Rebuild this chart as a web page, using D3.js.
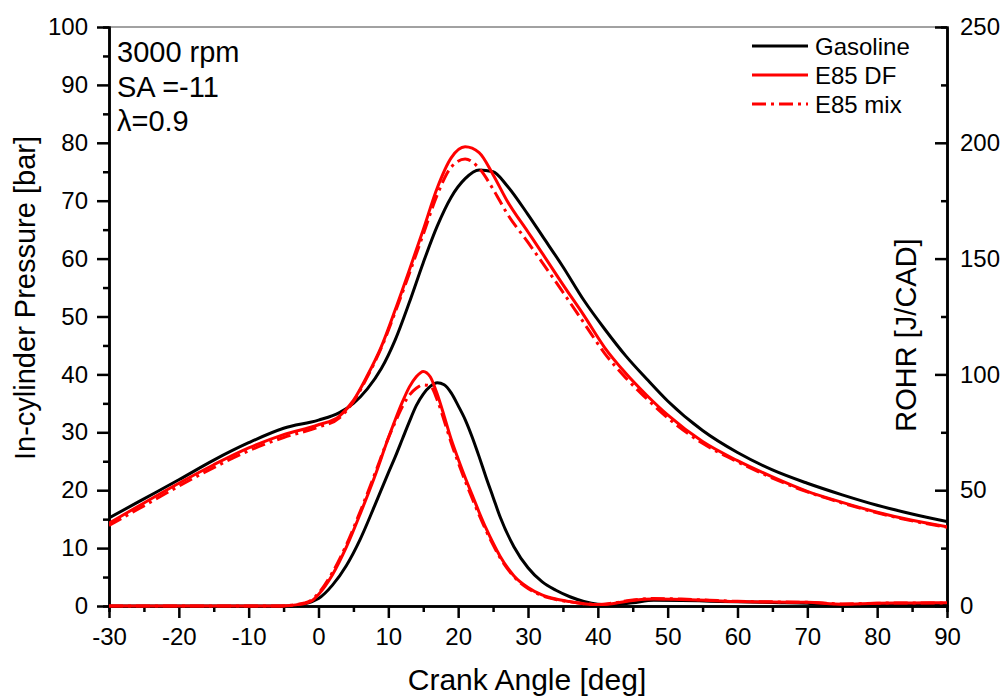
<!DOCTYPE html>
<html>
<head>
<meta charset="utf-8">
<script src="https://cdn.jsdelivr.net/npm/d3@7"></script>
<style>
  html, body { margin: 0; padding: 0; background: #fff; }
  svg { display: block; font-family: Arial, "Liberation Sans", sans-serif; }
</style>
</head>
<body>
<svg id="chart" width="1005" height="696"></svg>
<script>
// crank angle grid (deg) for the pressure traces
const pAngle = [-30,-25,-20,-15,-10,-5,0,3,5,7,9,11,13,15,17,19,21,23,25,27,30,32,35,38,41,44,47,50,55,60,65,70,75,80,85,90];
const pGasoline = [15.2,18.5,21.8,25.2,28.2,30.7,32.1,33.4,35.0,37.5,41.0,46.0,52.4,59.3,65.6,70.6,73.8,75.3,75.0,72.6,67.6,64.0,58.6,52.8,47.8,43.2,39.2,35.4,30.3,26.5,23.5,21.2,19.2,17.4,15.9,14.6];
const pE85DF    = [14.3,17.8,21.2,24.4,27.3,29.6,31.3,32.8,35.5,39.8,44.8,51.2,58.0,65.0,72.2,77.4,79.3,78.3,74.5,70.0,64.6,61.0,55.5,50.2,44.6,40.2,36.4,33.0,28.4,25.1,22.3,19.8,17.9,16.2,14.8,13.7];
const pE85mix   = [13.9,17.3,20.7,23.9,26.8,29.1,30.9,32.5,35.3,39.6,44.6,50.8,57.4,64.2,71.0,75.8,77.2,75.6,72.0,67.8,62.8,59.4,54.2,48.9,43.6,39.4,35.8,32.5,28.1,24.9,22.1,19.7,17.8,16.1,14.7,13.6];

// crank angle grid (deg) for the heat release traces
const rAngle = [-30,-20,-10,-6,-5,-4,-3,-2,-1,0,2,4,6,8,10,11,12,13,14,15,16,17,18,19,20,21,22,23,24,25,26,28,30,32,34,36,38,40,42,45,48,52,56,60,65,70,75,80,85,90];
const rGasoline = [0,0,0,0,0,0,0.3,0.9,1.8,3.2,9,17.5,29,43,57.5,64.5,72,79.5,86.5,91.5,94.8,96.4,95.5,92,86.5,80.5,73,64.5,55.5,47,38.5,25.5,16.5,10.5,6.8,4,2,0.8,0.5,1.4,2.5,2.4,2.1,1.8,1.5,1.2,0.2,0.3,0.5,0.6];
const rE85DF    = [0,0,0,0,0,0.2,0.6,1.1,2.2,5,13.5,25.5,40,55.5,72.5,80.5,88,94.5,99,101.3,99,91.5,82,72,63.5,55.5,48,40.5,33.5,27.2,21.5,13,8,4.8,3,1.9,1,0.6,1,2.4,3,2.8,2.4,1.9,1.7,1.6,0.8,1.2,1.3,1.4];
const rE85mix   = [0,0,0,0,0.1,0.3,0.7,1.3,2.6,5.5,14.5,26.5,41,56.5,72.5,79.5,86,91,94,95.5,95,89,80,70.5,62,54,46.5,39.3,32.5,26.4,20.8,12.6,7.6,4.5,2.8,1.8,1,0.7,1.2,2.6,3.2,3,2.5,2,1.8,1.6,0.9,1.2,1.3,1.3];

const seriesNames = ["Gasoline", "E85 DF", "E85 mix"];
const seriesColors = ["#000000", "#ff0000", "#ff0000"];
const seriesDash = [null, null, "14,5,3,5"];

const xTicks = [-30,-20,-10,0,10,20,30,40,50,60,70,80,90];
const xMinor = [-25,-15,-5,5,15,25,35,45,55,65,75,85];
const yTicks = [0,10,20,30,40,50,60,70,80,90,100];
const yMinor = [5,15,25,35,45,55,65,75,85,95];
const y2Ticks = [0,50,100,150,200,250];
const y2Minor = [25,75,125,175,225];

const L = 109, R = 947, T = 27, B = 606;
const svg = d3.select("#chart");

const x = d3.scaleLinear().domain([-30, 90]).range([L, R]);
const y = d3.scaleLinear().domain([0, 100]).range([B, T]);
const y2 = d3.scaleLinear().domain([0, 250]).range([B, T]);

// top frame line
svg.append("line").attr("x1", L).attr("x2", R).attr("y1", T).attr("y2", T)
  .attr("stroke", "#444").attr("stroke-width", 1);

function styleAxis(g, size) {
  g.selectAll(".domain").attr("stroke", "#000").attr("stroke-width", 2.5);
  g.selectAll(".tick line").attr("stroke", "#000").attr("stroke-width", 2.5);
  g.selectAll(".tick text").attr("fill", "#000").attr("font-size", size);
}

// bottom axis
svg.append("g").attr("transform", `translate(0,${B})`)
  .call(d3.axisBottom(x).tickValues(xMinor).tickSize(6).tickFormat(""))
  .call(g => styleAxis(g, 0));
svg.append("g").attr("transform", `translate(0,${B})`)
  .call(d3.axisBottom(x).tickValues(xTicks).tickSizeInner(12).tickSizeOuter(0).tickPadding(10))
  .call(g => styleAxis(g, "24px"))
  .call(g => g.selectAll(".tick text").text(d => d < 0 ? "-" + Math.abs(d) : d));

// left axis
svg.append("g").attr("transform", `translate(${L},0)`)
  .call(d3.axisLeft(y).tickValues(yMinor).tickSize(6).tickFormat(""))
  .call(g => styleAxis(g, 0));
svg.append("g").attr("transform", `translate(${L},0)`)
  .call(d3.axisLeft(y).tickValues(yTicks).tickSizeInner(12).tickSizeOuter(0).tickPadding(9))
  .call(g => styleAxis(g, "24px"));

// right axis (ticks inward)
svg.append("g").attr("transform", `translate(${R},0)`)
  .call(d3.axisRight(y2).tickValues(y2Minor).tickSize(-6).tickFormat(""))
  .call(g => styleAxis(g, 0));
svg.append("g").attr("transform", `translate(${R},0)`)
  .call(d3.axisRight(y2).tickValues(y2Ticks).tickSizeInner(-12).tickSizeOuter(0).tickPadding(13))
  .call(g => styleAxis(g, "24px"));

// curves
svg.append("clipPath").attr("id", "plotclip").append("rect")
  .attr("x", L).attr("y", T - 5).attr("width", R - L).attr("height", B - T + 10);
const plot = svg.append("g").attr("clip-path", "url(#plotclip)");

const pLine = d3.line().x(d => x(d[0])).y(d => y(d[1])).curve(d3.curveMonotoneX);
const rLine = d3.line().x(d => x(d[0])).y(d => y2(d[1])).curve(d3.curveMonotoneX);

const pSeries = [pGasoline, pE85DF, pE85mix];
const rSeries = [rGasoline, rE85DF, rE85mix];

seriesNames.forEach((name, i) => {
  plot.append("path")
    .datum(pAngle.map((a, k) => [a, pSeries[i][k]]))
    .attr("d", pLine)
    .attr("fill", "none").attr("stroke", seriesColors[i]).attr("stroke-width", 3)
    .attr("stroke-dasharray", seriesDash[i]);
  plot.append("path")
    .datum(rAngle.map((a, k) => [a, rSeries[i][k]]))
    .attr("d", rLine)
    .attr("fill", "none").attr("stroke", seriesColors[i]).attr("stroke-width", 3)
    .attr("stroke-dasharray", seriesDash[i]);
});

// legend
const leg = svg.append("g");
seriesNames.forEach((name, i) => {
  const ly = 46 + i * 29;
  leg.append("line").attr("x1", 752).attr("x2", 808).attr("y1", ly).attr("y2", ly)
    .attr("stroke", seriesColors[i]).attr("stroke-width", 3)
    .attr("stroke-dasharray", seriesDash[i]);
  leg.append("text").attr("x", 815).attr("y", ly).attr("dy", "0.36em")
    .attr("font-size", "24px").attr("fill", "#000").text(name);
});

// annotations
const notes = ["3000 rpm", "SA =-11", "\u03bb=0.9"];
notes.forEach((t, i) => {
  svg.append("text").attr("x", 117).attr("y", 62 + i * 34.5)
    .attr("font-size", "29px").attr("fill", "#000").text(t);
});

// axis titles
svg.append("text").attr("x", 527).attr("y", 690).attr("text-anchor", "middle")
  .attr("font-size", "30px").attr("fill", "#000").text("Crank Angle [deg]");
svg.append("text").attr("transform", "translate(25,298) rotate(-90)")
  .attr("text-anchor", "middle").attr("dy", "0.36em")
  .attr("font-size", "29px").attr("fill", "#000").text("In-cylinder Pressure [bar]");
svg.append("text").attr("transform", "translate(906,335) rotate(-90)")
  .attr("text-anchor", "middle").attr("dy", "0.36em")
  .attr("font-size", "29px").attr("fill", "#000").text("ROHR [J/CAD]");
</script>
</body>
</html>
